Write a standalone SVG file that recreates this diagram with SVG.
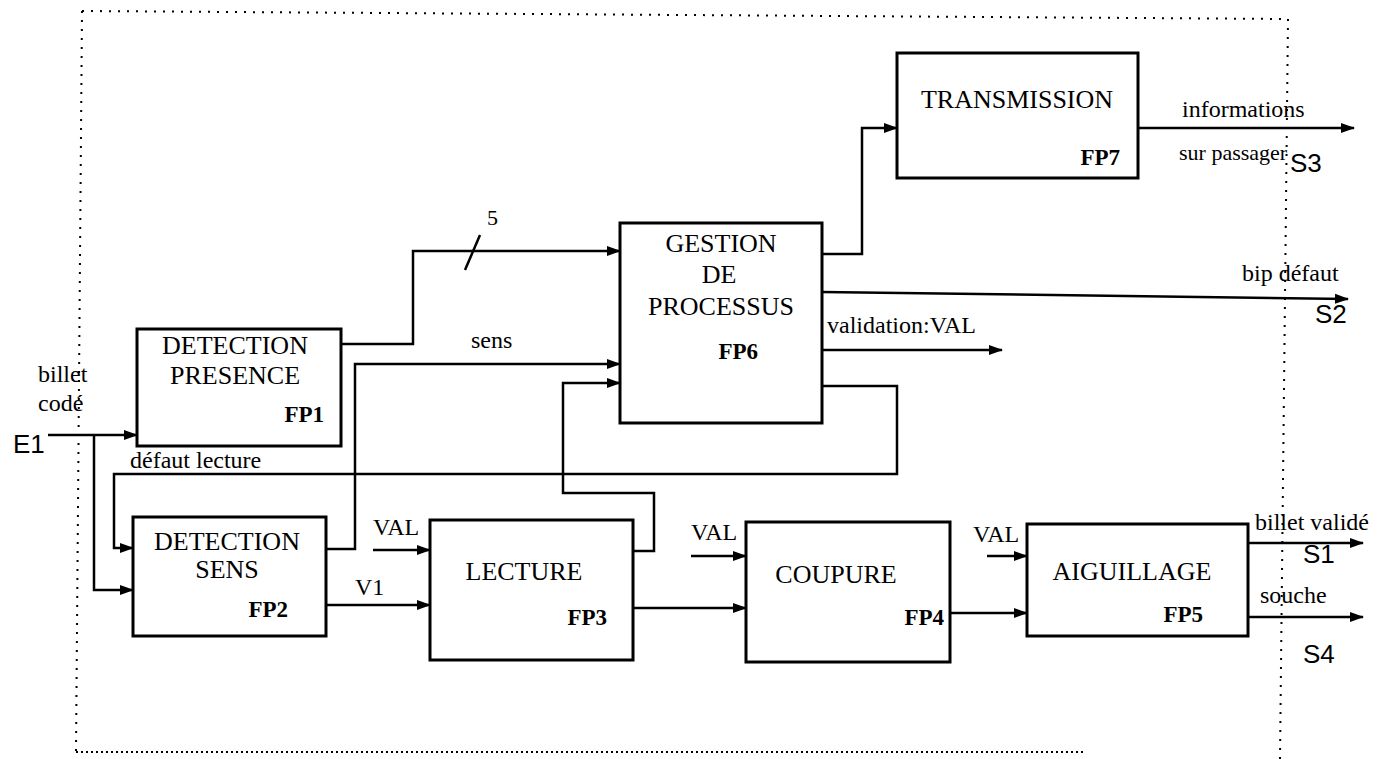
<svg xmlns="http://www.w3.org/2000/svg" width="1389" height="759" viewBox="0 0 1389 759">
<style>
.box{fill:#fff;stroke:#000;stroke-width:3}
.t{font-family:"Liberation Serif","Times New Roman",serif;font-size:26px;fill:#000}
.fp{font-family:"Liberation Serif","Times New Roman",serif;font-size:23px;font-weight:bold;fill:#000}
.lb{font-family:"Liberation Serif","Times New Roman",serif;font-size:24px;fill:#000}
.io{font-family:"Liberation Sans",Arial,sans-serif;font-size:26px;fill:#000}
.c{fill:none;stroke:#000;stroke-width:2.5}
.dot{fill:none;stroke:#000;stroke-width:2;stroke-dasharray:2 7}
</style>
<defs>
<marker id="ah" markerWidth="14" markerHeight="12" refX="13" refY="6" orient="auto" markerUnits="userSpaceOnUse">
<path d="M0,1 L14,6 L0,11 Z" fill="#000"/>
</marker>
</defs>
<rect width="1389" height="759" fill="#fff"/>
<g id="border">
<path class="dot" d="M82,11 L1288,19"/>
<path class="dot" d="M82,11 L76,752"/>
<path class="dot" d="M1288,19 L1280,759"/>
<path class="dot" d="M76,752 L1083,752" style="stroke-dasharray:2 3"/>
</g>
<g id="connectors">
<path class="c" d="M48,435 H137" marker-end="url(#ah)"/>
<path class="c" d="M94,435 V590 H133" marker-end="url(#ah)"/>
<path class="c" d="M822,386 H897 V474 H114 V548 H133" marker-end="url(#ah)"/>
<path class="c" d="M341,344 H413 V251 H620" marker-end="url(#ah)"/>
<path class="c" d="M465,270 L480,235"/>
<path class="c" d="M326,549 H355 V364 H620" marker-end="url(#ah)"/>
<path class="c" d="M633,551 H654 V493 H563 V383 H620" marker-end="url(#ah)"/>
<path class="c" d="M822,254 H862 V128 H897" marker-end="url(#ah)"/>
<path class="c" d="M1138,128 H1354" marker-end="url(#ah)"/>
<path class="c" d="M822,292 L1348,299" marker-end="url(#ah)"/>
<path class="c" d="M822,350 H1002" marker-end="url(#ah)"/>
<path class="c" d="M373,550 H430" marker-end="url(#ah)"/>
<path class="c" d="M326,605 H430" marker-end="url(#ah)"/>
<path class="c" d="M633,608 H746" marker-end="url(#ah)"/>
<path class="c" d="M691,556 H746" marker-end="url(#ah)"/>
<path class="c" d="M950,613 H1027" marker-end="url(#ah)"/>
<path class="c" d="M987,556 H1027" marker-end="url(#ah)"/>
<path class="c" d="M1248,543 H1363" marker-end="url(#ah)"/>
<path class="c" d="M1248,617 H1363" marker-end="url(#ah)"/>
</g>
<g id="FP1">
<rect class="box" x="137" y="329" width="204" height="117"/>
<text class="t" x="235" y="354" text-anchor="middle">DETECTION</text>
<text class="t" x="235" y="384" text-anchor="middle">PRESENCE</text>
<text class="fp" x="324" y="422" text-anchor="end">FP1</text>
</g>
<g id="FP2">
<rect class="box" x="133" y="517" width="193" height="119"/>
<text class="t" x="227" y="550" text-anchor="middle">DETECTION</text>
<text class="t" x="227" y="578" text-anchor="middle">SENS</text>
<text class="fp" x="288" y="617" text-anchor="end">FP2</text>
</g>
<g id="FP3">
<rect class="box" x="430" y="520" width="203" height="140"/>
<text class="t" x="524" y="580" text-anchor="middle">LECTURE</text>
<text class="fp" x="607" y="625" text-anchor="end">FP3</text>
</g>
<g id="FP4">
<rect class="box" x="746" y="522" width="204" height="140"/>
<text class="t" x="836" y="583" text-anchor="middle">COUPURE</text>
<text class="fp" x="944" y="625" text-anchor="end">FP4</text>
</g>
<g id="FP5">
<rect class="box" x="1027" y="524" width="221" height="112"/>
<text class="t" x="1132" y="580" text-anchor="middle">AIGUILLAGE</text>
<text class="fp" x="1203" y="622" text-anchor="end">FP5</text>
</g>
<g id="FP6">
<rect class="box" x="620" y="223" width="202" height="200"/>
<text class="t" x="721" y="252" text-anchor="middle">GESTION</text>
<text class="t" x="719" y="283" text-anchor="middle">DE</text>
<text class="t" x="721" y="315" text-anchor="middle">PROCESSUS</text>
<text class="fp" x="758" y="359" text-anchor="end">FP6</text>
</g>
<g id="FP7">
<rect class="box" x="897" y="53" width="241" height="125"/>
<text class="t" x="1017" y="108" text-anchor="middle">TRANSMISSION</text>
<text class="fp" x="1120" y="165" text-anchor="end">FP7</text>
</g>
<g id="labels">
<text class="lb" x="38" y="382">billet</text>
<text class="lb" x="38" y="411">codé</text>
<text class="io" x="13" y="453">E1</text>
<text class="lb" x="130" y="468">défaut lecture</text>
<text class="lb" x="487" y="225" style="font-size:22px">5</text>
<text class="lb" x="471" y="348">sens</text>
<text class="lb" x="827" y="333">validation:VAL</text>
<text class="lb" x="1182" y="117">informations</text>
<text class="lb" x="1179" y="160" style="font-size:22px">sur passager</text>
<text class="io" x="1290" y="172">S3</text>
<text class="lb" x="1242" y="281">bip défaut</text>
<text class="io" x="1315" y="323">S2</text>
<text class="lb" x="373" y="535">VAL</text>
<text class="lb" x="355" y="595">V1</text>
<text class="lb" x="691" y="540">VAL</text>
<text class="lb" x="973" y="542">VAL</text>
<text class="lb" x="1255" y="530">billet validé</text>
<text class="io" x="1303" y="563">S1</text>
<text class="lb" x="1260" y="603">souche</text>
<text class="io" x="1303" y="663">S4</text>
</g>
</svg>
